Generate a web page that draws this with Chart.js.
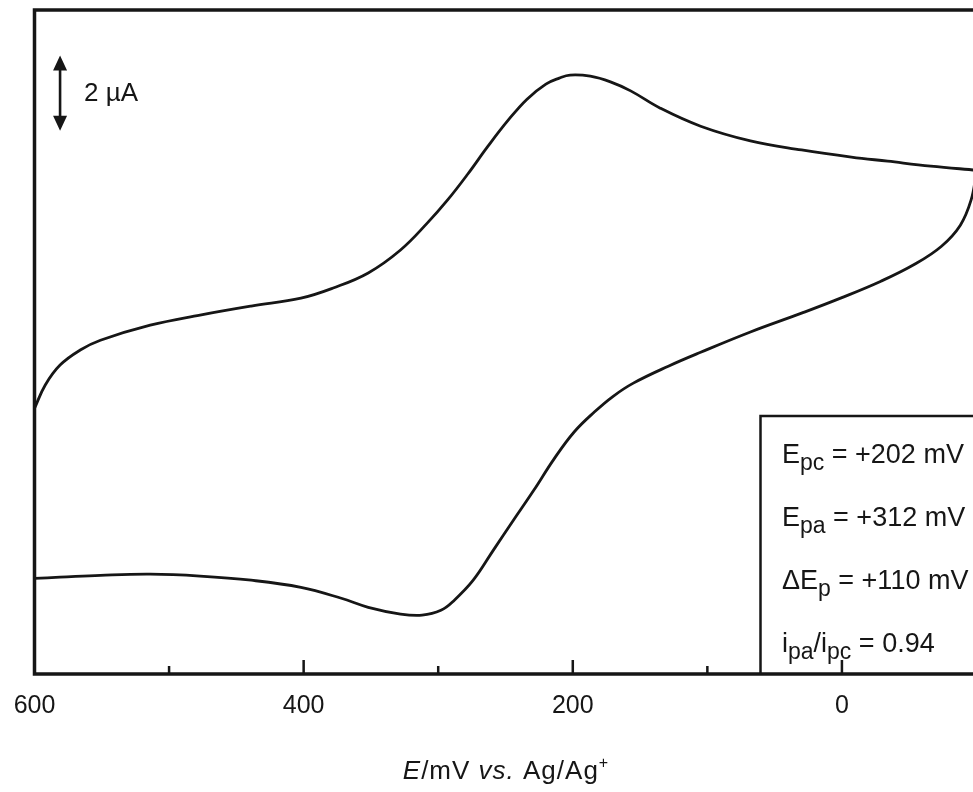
<!DOCTYPE html>
<html>
<head>
<meta charset="utf-8">
<script src="https://cdn.jsdelivr.net/npm/chart.js@4.4.1/dist/chart.umd.min.js"></script>
<style>
  html, body { margin: 0; padding: 0; background: #fff; overflow: hidden; }
  #wrap { position: relative; width: 980px; height: 792px; }
</style>
</head>
<body>
<div id="wrap"><canvas id="cv" width="980" height="792"></canvas></div>
<script>
// Forward (cathodic) scan: potential in mV vs. Ag/Ag+, current in µA
const forwardE = [600, 592, 581, 566, 551, 514, 477, 439, 402, 378, 352, 328, 308, 293, 278, 263,
                  248, 234, 220, 210, 202, 187, 172, 157, 135, 105, 68, 30, -7, -34, -66, -100];
const forwardI = [-4.99, -4.37, -3.84, -3.44, -3.18, -2.78, -2.51, -2.27, -2.06, -1.79, -1.39, -0.78,
                  -0.06, 0.55, 1.24, 1.98, 2.67, 3.23, 3.63, 3.79, 3.87, 3.84, 3.69, 3.45, 2.99,
                  2.51, 2.12, 1.88, 1.69, 1.58, 1.45, 1.34];

// Return (anodic) scan, listed from 600 mV down to the switching potential
const returnE = [600, 581, 551, 514, 477, 439, 402, 372, 352, 328, 312, 298, 288, 274, 259, 244,
                 229, 214, 199, 184, 170, 155, 129, 105, 68, 30, 1, -29, -54, -74, -88, -96, -100];
const returnI = [-9.51, -9.48, -9.43, -9.40, -9.45, -9.56, -9.75, -10.04, -10.28, -10.46, -10.49,
                 -10.36, -10.09, -9.56, -8.76, -7.96, -7.17, -6.34, -5.62, -5.09, -4.67, -4.32,
                 -3.87, -3.50, -2.96, -2.46, -2.06, -1.61, -1.16, -0.68, -0.12, 0.55, 1.29];

// Potential axis
const majorTicks = [600, 400, 200, 0];
const tickLabels = ['600', '400', '200', '0'];
const minorTicks = [500, 300, 100, -100];

// Current scale bar (µA)
const barPotential = 581;
const barFrom = [2.39];
const barSpan = [2];
const barLabel = '2 µA';

// Peak parameters: runs of [text, style]
const peakLines = [
  [['E', 'n'], ['pc', 'sub'], [' = +202 mV', 'n']],
  [['E', 'n'], ['pa', 'sub'], [' = +312 mV', 'n']],
  [['ΔE', 'n'], ['p', 'sub'], [' = +110 mV', 'n']],
  [['i', 'n'], ['pa', 'sub'], ['/i', 'n'], ['pc', 'sub'], [' = 0.94', 'n']]
];

const axisTitle = [['E', 'i'], ['/mV ', 'n'], ['vs.', 'i'], [' Ag/Ag', 'n'], ['+', 'sup']];

const FAMILY = '"Liberation Sans", Arial, Helvetica, sans-serif';
const INK = '#161616';

function runFont(style, size) {
  if (style === 'i') return 'italic ' + size + 'px ' + FAMILY;
  if (style === 'sub') return Math.round(size * 0.85) + 'px ' + FAMILY;
  if (style === 'sup') return Math.round(size * 0.62) + 'px ' + FAMILY;
  return size + 'px ' + FAMILY;
}
function runShift(style, size) {
  if (style === 'sub') return size * 0.27;
  if (style === 'sup') return -size * 0.42;
  return 0;
}
function runsWidth(ctx, runs, size) {
  let w = 0;
  runs.forEach(([t, s]) => { ctx.font = runFont(s, size); w += ctx.measureText(t).width; });
  return w;
}
function drawRuns(ctx, runs, x0, base, size) {
  let xx = x0;
  ctx.textAlign = 'left';
  ctx.textBaseline = 'alphabetic';
  runs.forEach(([t, s]) => {
    ctx.font = runFont(s, size);
    ctx.fillText(t, xx, base + runShift(s, size));
    xx += ctx.measureText(t).width;
  });
}

const decorations = {
  id: 'decorations',
  afterDatasetsDraw(chart) {
    const { ctx, chartArea: a, scales: { x, y } } = chart;
    const axisY = a.bottom + 2;
    ctx.save();
    ctx.strokeStyle = INK;
    ctx.fillStyle = INK;

    // frame: left edge, top edge, potential axis
    ctx.lineWidth = 3.5;
    ctx.lineCap = 'square';
    ctx.beginPath();
    ctx.moveTo(a.left, axisY);
    ctx.lineTo(a.left, a.top);
    ctx.lineTo(chart.width, a.top);
    ctx.moveTo(a.left, axisY);
    ctx.lineTo(chart.width, axisY);
    ctx.stroke();

    // inward tick marks
    ctx.lineCap = 'butt';
    ctx.lineWidth = 2.5;
    ctx.beginPath();
    majorTicks.forEach(v => {
      const px = x.getPixelForValue(v);
      ctx.moveTo(px, axisY);
      ctx.lineTo(px, axisY - 14);
    });
    minorTicks.forEach(v => {
      const px = x.getPixelForValue(v);
      ctx.moveTo(px, axisY);
      ctx.lineTo(px, axisY - 8);
    });
    ctx.stroke();

    // tick labels
    ctx.font = '25px ' + FAMILY;
    ctx.textAlign = 'center';
    ctx.textBaseline = 'alphabetic';
    majorTicks.forEach((v, k) => ctx.fillText(tickLabels[k], x.getPixelForValue(v), 713));

    // axis title
    ctx.letterSpacing = '1px';
    const tSize = 26;
    const tw = runsWidth(ctx, axisTitle, tSize);
    drawRuns(ctx, axisTitle, 506 - tw / 2, 779, tSize);
    ctx.letterSpacing = '0px';

    // peak parameter box
    const boxL = 760.5, boxT = 416;
    ctx.lineWidth = 2.5;
    ctx.beginPath();
    ctx.moveTo(boxL, axisY);
    ctx.lineTo(boxL, boxT);
    ctx.lineTo(chart.width, boxT);
    ctx.stroke();
    const bases = [463, 526, 589, 652];
    peakLines.forEach((runs, k) => drawRuns(ctx, runs, 782, bases[k], 27));

    // current scale bar with double arrow
    const bx = x.getPixelForValue(barPotential);
    const y0 = y.getPixelForValue(barFrom[0]);
    const y1 = y.getPixelForValue(barFrom[0] + barSpan[0]);
    const head = 15, half = 7;
    ctx.lineWidth = 2.6;
    ctx.beginPath();
    ctx.moveTo(bx, y0 - head + 2);
    ctx.lineTo(bx, y1 + head - 2);
    ctx.stroke();
    ctx.beginPath();
    ctx.moveTo(bx, y1);
    ctx.lineTo(bx - half, y1 + head);
    ctx.lineTo(bx + half, y1 + head);
    ctx.closePath();
    ctx.moveTo(bx, y0);
    ctx.lineTo(bx - half, y0 - head);
    ctx.lineTo(bx + half, y0 - head);
    ctx.closePath();
    ctx.fill();
    ctx.font = '26px ' + FAMILY;
    ctx.textAlign = 'left';
    ctx.textBaseline = 'middle';
    ctx.fillText(barLabel, 84, (y0 + y1) / 2 + 1);

    ctx.restore();
  }
};

const toPoints = (es, is) => es.map((e, k) => ({ x: e, y: is[k] }));

const traceStyle = {
  showLine: true,
  borderColor: INK,
  borderWidth: 2.8,
  pointRadius: 0,
  fill: false,
  tension: 0.4
};

new Chart(document.getElementById('cv'), {
  type: 'scatter',
  data: {
    datasets: [
      Object.assign({ label: 'forward scan', data: toPoints(forwardE, forwardI) }, traceStyle),
      Object.assign({ label: 'return scan', data: toPoints(returnE, returnI) }, traceStyle)
    ]
  },
  options: {
    responsive: false,
    animation: false,
    devicePixelRatio: 1,
    layout: { padding: { left: 34.5, right: 3.5, top: 10, bottom: 120 } },
    scales: {
      x: { type: 'linear', reverse: true, min: -100, max: 600, display: false },
      y: { type: 'linear', min: -12, max: 5.6, display: false }
    },
    plugins: { legend: { display: false }, tooltip: { enabled: false } }
  },
  plugins: [decorations]
});
</script>
</body>
</html>
